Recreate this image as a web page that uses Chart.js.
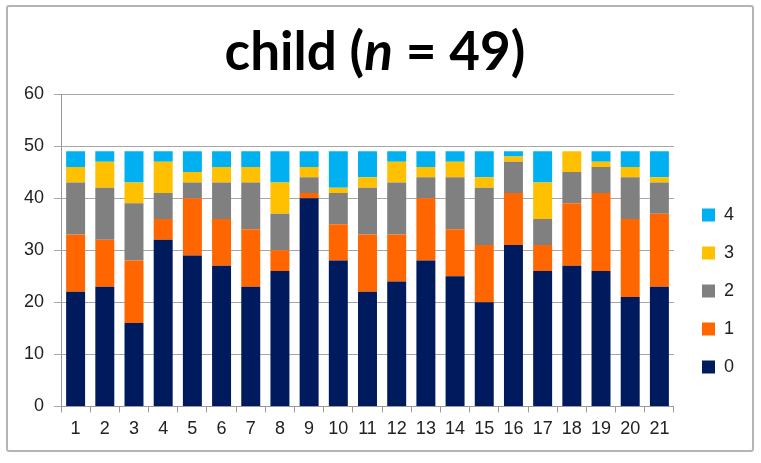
<!DOCTYPE html>
<html>
<head>
<meta charset="utf-8">
<script src="https://cdn.jsdelivr.net/npm/chart.js@4.4.1/dist/chart.umd.min.js"></script>
<style>
    body { margin: 0; background: #fff; }
    #wrap { position: relative; width: 761px; height: 463px; }
    #frame { position: absolute; left: 6px; top: 5px; width: 744px; height: 443px;
             border: 2px solid #b4b4b4; border-radius: 3px; }
    #title { position: absolute; left: 0; top: 18px; width: 750px; text-align: center;
             font-family: Lato, "Open Sans", sans-serif; font-weight: bold; font-size: 53px; color: #000; }
    #chart { position: absolute; left: 0; top: 0; }
</style>
</head>
<body>
<div id="wrap">
    <div id="frame"></div>
    <div id="title">child (<i>n</i> = 49)</div>
    <canvas id="chart" width="761" height="463"></canvas>
</div>
<script>
const categories = ['1', '2', '3', '4', '5', '6', '7', '8', '9', '10', '11', '12', '13', '14', '15', '16', '17', '18', '19', '20', '21'];
const score0 = [22, 23, 16, 32, 29, 27, 23, 26, 40, 28, 22, 24, 28, 25, 20, 31, 26, 27, 26, 21, 23];
const score1 = [11, 9, 12, 4, 11, 9, 11, 4, 1, 7, 11, 9, 12, 9, 11, 10, 5, 12, 15, 15, 14];
const score2 = [10, 10, 11, 5, 3, 7, 9, 7, 3, 6, 9, 10, 4, 10, 11, 6, 5, 6, 5, 8, 6];
const score3 = [3, 5, 4, 6, 2, 3, 3, 6, 2, 1, 2, 4, 2, 3, 2, 1, 7, 4, 1, 2, 1];
const score4 = [3, 2, 6, 2, 4, 3, 3, 6, 3, 7, 5, 2, 3, 2, 5, 1, 6, 0, 2, 3, 5];
const yTicks = [0, 10, 20, 30, 40, 50, 60];

const chart = document.getElementById('chart');

// move the legend block: a bit to the right and up so it sits like the original
const legendShift = {
    id: 'legendShift',
    afterLayout(c) {
        const lg = c.legend;
        const dx = 8;
        const dy = 396 - lg.bottom;
        lg.left += dx; lg.right += dx;
        lg.top += dy; lg.bottom += dy;
    }
};

new Chart(chart, {
    type: 'bar',
    data: {
        labels: categories,
        datasets: [
            { label: '0', data: score0, backgroundColor: '#001A5E' },
            { label: '1', data: score1, backgroundColor: '#FF6600' },
            { label: '2', data: score2, backgroundColor: '#808080' },
            { label: '3', data: score3, backgroundColor: '#FFC000' },
            { label: '4', data: score4, backgroundColor: '#00B0F0' }
        ]
    },
    options: {
        responsive: false,
        animation: false,
        devicePixelRatio: 1,
        layout: { padding: { top: 94, left: 14, right: 25, bottom: 17 } },
        datasets: { bar: { barPercentage: 0.65, categoryPercentage: 1 } },
        plugins: {
            legend: {
                position: 'right',
                align: 'end',
                reverse: true,
                labels: {
                    boxWidth: 13,
                    boxHeight: 13,
                    padding: 20,
                    color: '#222',
                    font: { family: 'Liberation Sans', size: 18 }
                }
            },
            tooltip: { enabled: false }
        },
        scales: {
            x: {
                stacked: true,
                grid: { offset: true, drawOnChartArea: false, color: '#999', tickLength: 6 },
                border: { color: '#999' },
                ticks: { color: '#222', padding: 6, font: { family: 'Liberation Sans', size: 18 } }
            },
            y: {
                stacked: true,
                min: 0,
                max: 60,
                afterBuildTicks: axis => { axis.ticks = yTicks.map(v => ({ value: v })); },
                grid: { color: '#a6a6a6', tickLength: 7 },
                border: { color: '#999' },
                ticks: { color: '#222', padding: 10, font: { family: 'Liberation Sans', size: 18 } }
            }
        }
    },
    plugins: [legendShift]
});
</script>
</body>
</html>
